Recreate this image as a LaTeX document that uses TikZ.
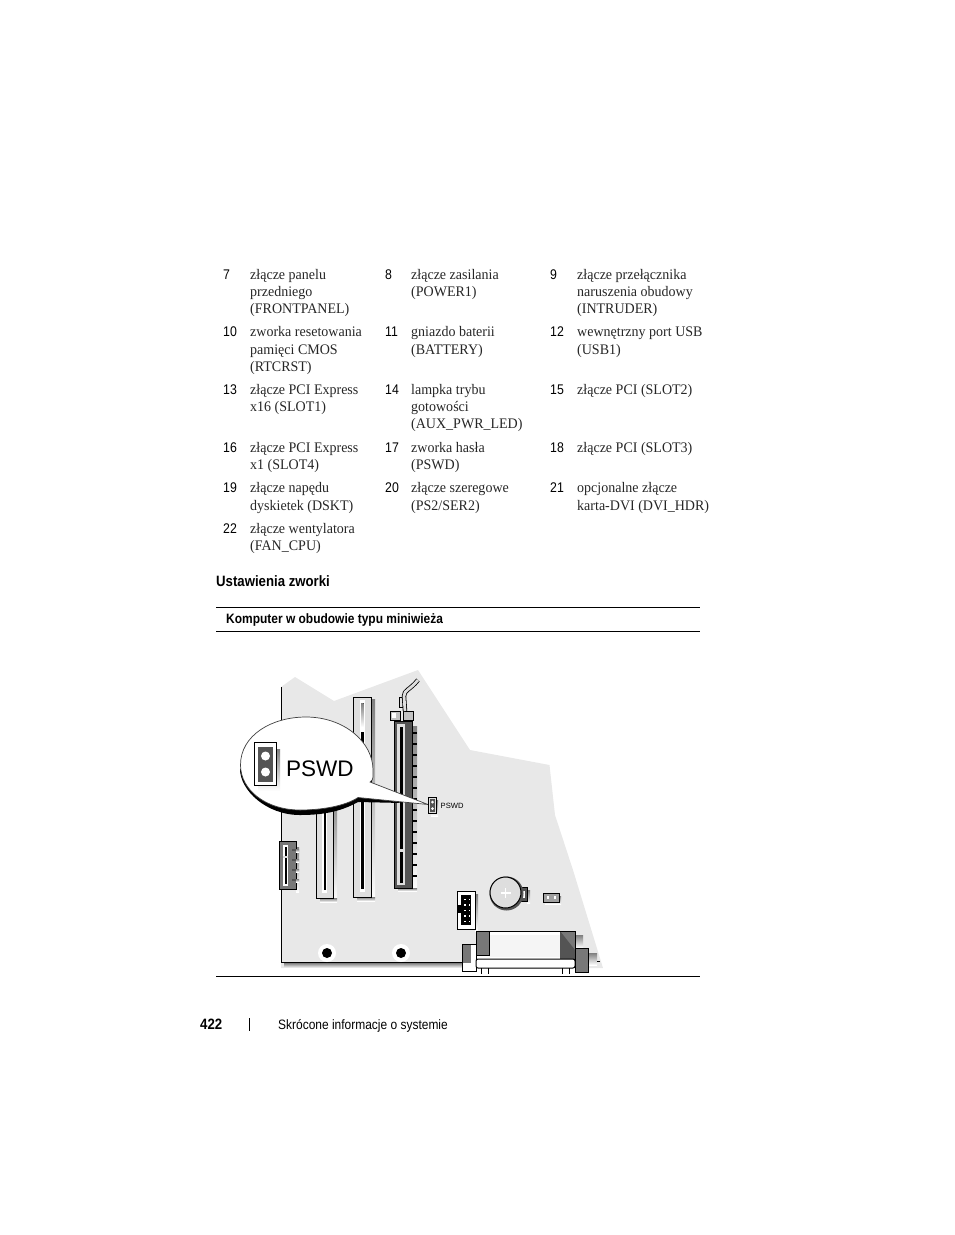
\documentclass[tikz,border=0pt]{standalone}
\usepackage{fontspec}
\setmainfont[FakeStretch=0.96]{Liberation Serif}
\newfontfamily\condsans[FakeStretch=0.88]{Liberation Sans}
\newfontfamily\plainsans{Liberation Sans}
\definecolor{board}{gray}{0.91}
\definecolor{shade}{gray}{0.76}
\definecolor{slotfill}{gray}{0.87}
\definecolor{darkslot}{gray}{0.33}
\definecolor{midslot}{gray}{0.47}
\tikzset{
  cell/.style={anchor=base west,inner sep=0pt,align=left,text=black!85,font=\fontsize{14.6}{17.2}\selectfont},
  numlab/.style={anchor=base west,inner sep=0pt,font=\condsans\fontsize{14}{16}\selectfont},
  headlab/.style={anchor=base west,inner sep=0pt,font=\condsans\bfseries\fontsize{13.6}{16}\selectfont},
  rulel/.style={line width=0.9pt,black},
  slotbox/.style={draw=black,line width=1pt,fill=slotfill},
  hole/.style={circle,fill=white,inner sep=0pt,minimum size=18pt},
  holecore/.style={circle,fill=black,inner sep=0pt,minimum size=10pt}
}
\begin{document}
\begin{tikzpicture}[x=1pt,y=-1pt]
\useasboundingbox (0,0) rectangle (954,1235);
% table rows
\node[numlab] (n7) at (223,279) {7};
\node[cell] (t7) at (250,279.5) {złącze panelu};
\node[cell] at (250,296.5) {przedniego};
\node[cell] at (250,313.5) {(FRONTPANEL)};
\node[numlab] (n8) at (385,279) {8};
\node[cell] at (411,279.5) {złącze zasilania};
\node[cell] at (411,296.5) {(POWER1)};
\node[numlab] (n9) at (550,279) {9};
\node[cell] at (577,279.5) {złącze przełącznika};
\node[cell] at (577,296.5) {naruszenia obudowy};
\node[cell] at (577,313.5) {(INTRUDER)};
\node[numlab] at (223,336) {10};
\node[cell] at (250,336.5) {zworka resetowania};
\node[cell] at (250,354) {pamięci CMOS};
\node[cell] at (250,371) {(RTCRST)};
\node[numlab] at (385,336) {11};
\node[cell] at (411,336.5) {gniazdo baterii};
\node[cell] at (411,354) {(BATTERY)};
\node[numlab] at (550,336) {12};
\node[cell] at (577,336.5) {wewnętrzny port USB};
\node[cell] at (577,354) {(USB1)};
\node[numlab] at (223,394) {13};
\node[cell] at (250,394.5) {złącze PCI Express};
\node[cell] at (250,411) {x16 (SLOT1)};
\node[numlab] at (385,394) {14};
\node[cell] at (411,394.5) {lampka trybu};
\node[cell] at (411,411) {gotowości};
\node[cell] at (411,428) {(AUX\_PWR\_LED)};
\node[numlab] at (550,394) {15};
\node[cell] at (577,394.5) {złącze PCI (SLOT2)};
\node[numlab] at (223,452) {16};
\node[cell] at (250,452.5) {złącze PCI Express};
\node[cell] at (250,469) {x1 (SLOT4)};
\node[numlab] at (385,452) {17};
\node[cell] at (411,452.5) {zworka hasła};
\node[cell] at (411,469) {(PSWD)};
\node[numlab] at (550,452) {18};
\node[cell] at (577,452.5) {złącze PCI (SLOT3)};
\node[numlab] at (223,492) {19};
\node[cell] at (250,492.5) {złącze napędu};
\node[cell] at (250,510) {dyskietek (DSKT)};
\node[numlab] at (385,492) {20};
\node[cell] at (411,492.5) {złącze szeregowe};
\node[cell] at (411,510) {(PS2/SER2)};
\node[numlab] at (550,492) {21};
\node[cell] at (577,492.5) {opcjonalne złącze};
\node[cell] at (577,510) {karta-DVI (DVI\_HDR)};
\node[numlab] at (223,533) {22};
\node[cell] at (250,533.5) {złącze wentylatora};
\node[cell] at (250,550) {(FAN\_CPU)};
% headings
\node[headlab,font=\condsans\bfseries\fontsize{15}{16}\selectfont] (head) at (216,586) {Ustawienia zworki};
\draw[rulel] (216,607.5)--(700,607.5);
\node[headlab] (sub) at (226,623) {Komputer w obudowie typu miniwieża};
\draw[rulel] (216,631.5)--(700,631.5);
% board
\fill[board] (281,687)--(295,677)--(334,701)--(418,670)--(470,750)--(549.5,765)--(555,815)--(573,870)--(603,968)--(281,968)--cycle;
\fill[shade] (284,963) rectangle (462,968);
\draw[black,line width=1pt] (281,687)--(281,962)--(462,962);
% PCI slot 2 (long)
\fill[shade] (371,699) rectangle (375,900);
\fill[shade] (357,897) rectangle (375,901);
\draw[slotbox] (353.5,697) rectangle (371,897);
\fill[white] (359.5,700) rectangle (365,730);
\fill[shade] (361,703) rectangle (363.5,727);
\fill[white] (359.8,730) rectangle (364.8,892);
\fill[black] (361,732) rectangle (363.5,889);
% PCI slot 3 (behind callout)
\fill[shade] (333,790) rectangle (337,901);
\fill[shade] (320,898) rectangle (337,902);
\draw[slotbox] (316.5,790) rectangle (333,898);
\fill[white] (322.2,790) rectangle (327.2,893);
\fill[black] (323.5,790) rectangle (326,890);
% PCIe x16
\fill[shade] (412,726) rectangle (417,890);
\fill[shade] (398,888) rectangle (417,891);
\draw[black,fill=darkslot,line width=1pt] (394,721) rectangle (412,888);
\fill[slotfill] (397,724) rectangle (405,885);
\fill[black] (399.5,727) rectangle (402.5,883);
\fill[slotfill] (397,849) rectangle (405,852);
\foreach \yy in {733,744,755,766,777,788,799,810,821,832,843,854,865,876}{\draw[black,line width=1.1pt] (412,\yy)--(417,\yy);}
% bracket and latch
\draw[black,fill=shade,line width=0.7pt] (390,711) rectangle (400,720);
\fill[white] (392,713) rectangle (396,718);
\draw[black,fill=shade,line width=0.7pt] (403,711) rectangle (413,720);
\draw[black,line width=0.6pt,fill=slotfill] (399,697) rectangle (404,707);
\draw[black,line width=4.4pt] (405,711)--(404,696) .. controls (404,690) and (410,690) .. (418,680);
\draw[slotfill,line width=2.8pt] (405,711)--(404,696) .. controls (404,690) and (410,690) .. (418,680);
% x1 slot
\fill[shade] (296,847) rectangle (299,892);
\draw[black,fill=midslot,line width=0.8pt] (279.5,841.5) rectangle (296,889);
\fill[white] (283,845) rectangle (288,886);
\fill[black] (284.5,847) rectangle (286.5,884);
\fill[slotfill] (283,856) rectangle (288,858);
\foreach \yy in {849,859,869,879}{\fill[darkslot] (292,\yy) rectangle (296,\yy+1.5); \fill[shade] (296,\yy) rectangle (299,\yy+3);}
% mounting holes
\node[hole] (h1) at (327,953) {};
\node[holecore] (c1) at (327,953) {};
\node[hole] (h2) at (401,953) {};
\node[holecore] (c2) at (401,953) {};
% header
\fill[shade] (475,894) rectangle (478,931);
\draw[black,fill=white,line width=1pt] (457.5,891.5) rectangle (475,929);
\fill[black] (461,895) rectangle (471,925);
\fill[black] (457.5,905) rectangle (461,913);
\foreach \yy in {898.5,904,909.5,915,920.5}{\foreach \xx in {464,468.5}{\fill[white] (\xx,\yy) rectangle (\xx+1.8,\yy+1.8);}}
% battery
\fill[shade] (527,890) rectangle (530,903);
\draw[black,fill=darkslot,line width=0.7pt] (520,887) rectangle (527,901);
\fill[white] (521.5,890.5) rectangle (524.5,897.5);
\fill[darkslot] (506.5,893.5) circle (17);
\draw[black,fill=slotfill,line width=1pt] (505.5,892.5) circle (15.5);
\draw[white,line width=1.1pt] (500.5,893)--(510.5,893) (505.5,888)--(505.5,898);
% small connector
\fill[shade] (545,896) rectangle (561,904);
\draw[black,fill=midslot!70,line width=0.6pt] (543,893) rectangle (559,902);
\fill[white] (546.5,896) rectangle (549,899);
\fill[white] (553.5,896) rectangle (556,899);
% rear connectors
\fill[shade] (575,935) rectangle (583,948);
\fill[shade] (588,953) rectangle (597,965);
\draw[black,line width=0.8pt] (597,961)--(600,961);
\draw[black,fill=white,line width=1pt] (462.5,944.5) rectangle (476,971);
\fill[midslot] (463,945) rectangle (471,963);
\draw[black,fill=white,line width=1pt] (476.5,931) rectangle (575,959);
\fill[black!4] (489,935) rectangle (560,957);
\draw[black,fill=midslot,line width=0.8pt] (476.5,931) rectangle (489.5,955);
\fill[midslot] (560,931) rectangle (575,959);
\fill[darkslot] (560,931)--(575,950)--(575,959)--(560,959)--cycle;
\draw[black,line width=1pt] (476.5,931) rectangle (575,959);
\draw[black,fill=white,line width=1pt,rounded corners=2pt] (476,959) rectangle (575,968);
\foreach \xx in {481,488,562,569}{\draw[black,line width=0.9pt] (\xx,968)--(\xx,974);}
\draw[black,fill=midslot,line width=1pt] (575,948.5) rectangle (588,972);
% callout
\fill[black] (240,769) .. controls (240,790) and (266,815) .. (300,815) .. controls (322,815) and (340,812) .. (358,802) -- (403,803) -- (358,795) -- (300,760) -- cycle;
\draw[black!75,line width=0.7pt,fill=white] (240.5,765) .. controls (240.5,735) and (272,717) .. (306,717) .. controls (344,717) and (373,742) .. (373,770) -- (373,777) .. controls (373,779) and (372,781) .. (370,782) -- (428,804.5) -- (358,797.5) .. controls (345,806) and (322,810) .. (300,810) .. controls (266,810) and (240.5,790) .. (240.5,765) -- cycle;
% jumper in callout
\fill[shade] (258,749) rectangle (280,791);
\draw[black,line width=1pt,fill=white] (254.5,742.5) rectangle (276.5,785.5);
\fill[darkslot] (258,746.5) rectangle (273,782);
\fill[white] (265.5,756) circle (4.5);
\fill[white] (265.5,772) circle (4.5);
\node[anchor=base west,inner sep=0pt,font=\plainsans\fontsize{22.5}{26}\selectfont] (bigp) at (286,776) {PSWD};
% small jumper
\fill[shade] (431,800) rectangle (438,816);
\draw[black,fill=slotfill,line width=0.7pt] (428.5,797.5) rectangle (436.5,813.5);
\fill[darkslot] (430,799) rectangle (435,812);
\fill[white] (432.5,802) circle (1.5);
\fill[white] (432.5,808.5) circle (1.5);
\node[anchor=base west,inner sep=0pt,font=\plainsans\fontsize{7.6}{9}\selectfont] (smallp) at (440.5,808.5) {PSWD};
% bottom rule
\draw[rulel] (216,976.5)--(700,976.5);
% footer
\node[anchor=base west,inner sep=0pt,font=\condsans\bfseries\fontsize{15}{17}\selectfont] (pg) at (200,1029) {422};
\draw[black,line width=0.8pt] (249,1018)--(249,1031);
\node[anchor=base west,inner sep=0pt,font=\condsans\fontsize{13.6}{16}\selectfont] (foot) at (278,1029) {Skrócone informacje o systemie};
\end{tikzpicture}
\end{document}
